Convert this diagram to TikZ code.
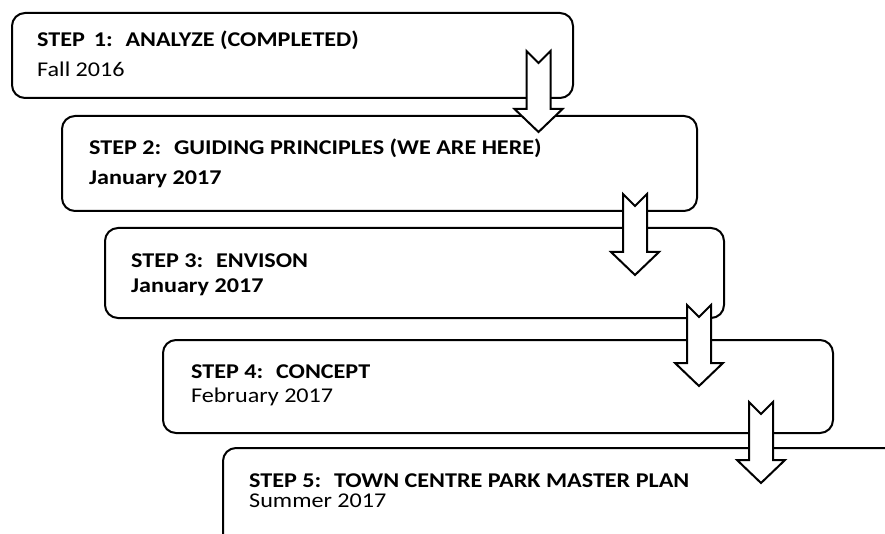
\documentclass[tikz,border=0pt]{standalone}
\usepackage{fontspec}
\setmainfont{Carlito}[FakeStretch=1.15]
\begin{document}
\begin{tikzpicture}[x=1pt,y=-1pt,
  stepbox/.style={draw=black,line width=2pt,rounded corners=13pt,inner sep=0pt,outer sep=0pt,fill=none},
  title/.style={anchor=base west,inner sep=0pt,font=\fontsize{21}{24}\selectfont\bfseries},
  datebold/.style={anchor=base west,inner sep=0pt,font=\fontsize{21}{24}\selectfont\bfseries},
  date/.style={anchor=base west,inner sep=0pt,font=\fontsize{21}{24}\selectfont},
  blockarrow/.pic={\draw[line width=2pt,fill=white,line join=miter]
     (-12,0) -- (0,12) -- (12,0) -- (12,58) -- (24,58) -- (0,81) -- (-24,58) -- (-12,58) -- cycle;}
]
\useasboundingbox (0,0) rectangle (885,534);
% boxes
\node[stepbox,minimum width=561pt,minimum height=85pt] (b1) at (292.5,55.5) {};
\node[stepbox,minimum width=635pt,minimum height=95pt] (b2) at (379.5,163.5) {};
\node[stepbox,minimum width=619pt,minimum height=90pt] (b3) at (414.5,273) {};
\node[stepbox,minimum width=670pt,minimum height=93pt] (b4) at (498,386.5) {};
\coordinate (b5bl) at (223,540);
\coordinate (b5tr) at (890,448);
\draw[line width=2pt,rounded corners=13pt] (b5bl) |- (b5tr);
% texts
\node[title] (t1) at (37,47) {STEP\, 1:~ ANALYZE (COMPLETED)};
\node[date] (d1) at (37,77) {Fall 2016};
\node[title] (t2) at (89,155) {STEP 2:~ GUIDING PRINCIPLES (WE ARE HERE)};
\node[datebold] (d2) at (89,185) {January 2017};
\node[title] (t3) at (131,268) {STEP 3:~ ENVISON};
\node[datebold] (d3) at (131,292) {January 2017};
\node[title] (t4) at (191,378) {STEP 4:~ CONCEPT};
\node[date] (d4) at (191,402) {February 2017};
\node[title] (t5) at (249,487) {STEP 5:~ TOWN CENTRE PARK MASTER PLAN};
\node[date] (d5) at (249,507) {Summer 2017};
% arrows
\pic at (538.5,51) {blockarrow};
\pic at (635,194) {blockarrow};
\pic at (699,305) {blockarrow};
\pic at (761,402) {blockarrow};
\end{tikzpicture}
\end{document}
